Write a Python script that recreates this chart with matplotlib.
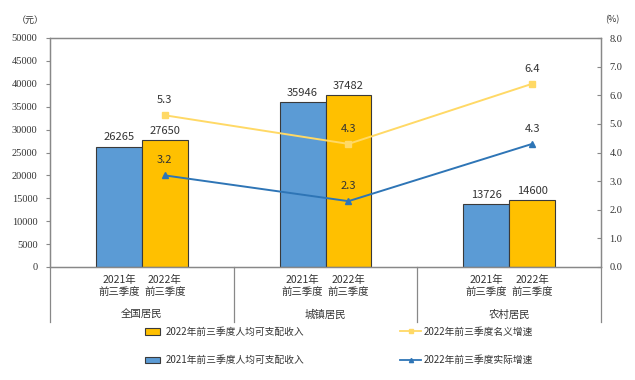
import matplotlib
matplotlib.use("Agg")
import matplotlib.pyplot as plt
from matplotlib.patches import Patch
from matplotlib.lines import Line2D
import numpy as np

plt.rcParams['font.family'] = ['Noto Sans CJK SC', 'DejaVu Sans']

groups = ['全国居民', '城镇居民', '农村居民']
sub_labels = ['2021年\n前三季度', '2022年\n前三季度']
income_2021 = [26265, 35946, 13726]
income_2022 = [27650, 37482, 14600]
nominal_growth = [5.3, 4.3, 6.4]
real_growth = [3.2, 2.3, 4.3]
left_ticks = [0, 5000, 10000, 15000, 20000, 25000, 30000, 35000, 40000, 45000, 50000]
right_ticks = [0.0, 1.0, 2.0, 3.0, 4.0, 5.0, 6.0, 7.0, 8.0]
legend_bar_labels = ['2022年前三季度人均可支配收入', '2021年前三季度人均可支配收入']
legend_line_labels = ['2022年前三季度名义增速', '2022年前三季度实际增速']

BLUE = '#5B9BD5'
GOLD = '#FFC000'
LINE_Y = '#FFD966'
LINE_B = '#2E75B6'
EDGE = '#3a3a3a'
AXC = '#888888'
TXT = '#333333'
NUMFONT = ['Liberation Serif', 'DejaVu Serif']

fig = plt.figure(figsize=(6.35, 3.8), dpi=100)
ax = fig.add_axes([50/635, 1-267/380, 551/635, 229/380])
ax2 = ax.twinx()

x = np.arange(len(groups)) + 0.5
w = 0.25
ax.bar(x - w/2, income_2021, w, color=BLUE, edgecolor=EDGE, linewidth=0.8, zorder=2)
ax.bar(x + w/2, income_2022, w, color=GOLD, edgecolor=EDGE, linewidth=0.8, zorder=2)
for xi, v in zip(x - w/2, income_2021):
    ax.text(xi, v + 1000, str(v), ha='center', va='bottom', fontsize=8, color=TXT)
for xi, v in zip(x + w/2, income_2022):
    ax.text(xi, v + 1000, str(v), ha='center', va='bottom', fontsize=8, color=TXT)

ax.set_xlim(0, 3)
ax.set_ylim(0, 50000)
ax.set_yticks(left_ticks)
ax.set_yticklabels([str(t) for t in left_ticks], fontsize=7.5, color=TXT, family=NUMFONT)
ax.set_xticks([])
ax.tick_params(axis='y', direction='out', length=3, color=AXC, pad=6)

ax2.plot(x + w/2, nominal_growth, color=LINE_Y, marker='s', markersize=4, linewidth=1.4, zorder=3)
ax2.plot(x + w/2, real_growth, color=LINE_B, marker='^', markersize=4, linewidth=1.4, zorder=3)
ax2.set_ylim(0, 8)
ax2.set_yticks(right_ticks)
ax2.set_yticklabels([f'{t:.1f}' for t in right_ticks], fontsize=7.5, color=TXT, family=NUMFONT)
ax2.tick_params(axis='y', direction='in', length=3, color=AXC, pad=6)
for xi, v in zip(x + w/2, nominal_growth):
    ax2.text(xi, v + 0.35, f'{v:.1f}', ha='center', va='bottom', fontsize=8, color=TXT)
for xi, v in zip(x + w/2, real_growth):
    ax2.text(xi, v + 0.35, f'{v:.1f}', ha='center', va='bottom', fontsize=8, color=TXT)

for a in (ax, ax2):
    for s in a.spines.values():
        s.set_color(AXC)
        s.set_linewidth(0.9)

tr = ax.get_xaxis_transform()
for xi in x:
    ax.text(xi - w/2, -0.035, sub_labels[0], transform=tr, ha='center', va='top', fontsize=7.5, color=TXT, linespacing=1.25)
    ax.text(xi + w/2, -0.035, sub_labels[1], transform=tr, ha='center', va='top', fontsize=7.5, color=TXT, linespacing=1.25)
for xi, g in zip(x, groups):
    ax.text(xi, -0.185, g, transform=tr, ha='center', va='top', fontsize=7.5, color=TXT)
for b in range(len(groups) + 1):
    ax.plot([b, b], [0, -0.24], transform=tr, color=AXC, linewidth=0.9, clip_on=False)

h_bars = [Patch(facecolor=GOLD, edgecolor=EDGE, linewidth=0.8),
          Patch(facecolor=BLUE, edgecolor=EDGE, linewidth=0.8)]
h_lines = [Line2D([], [], color=LINE_Y, marker='s', markersize=3, linewidth=1.3),
           Line2D([], [], color=LINE_B, marker='^', markersize=3, linewidth=1.3)]
leg1 = fig.legend(h_bars, legend_bar_labels, loc='upper left', bbox_to_anchor=(140/635, 1-322/380),
                  frameon=False, fontsize=7, handlelength=1.6, handleheight=0.6, labelspacing=1.9,
                  handletextpad=0.5, borderpad=0)
leg2 = fig.legend(h_lines, legend_line_labels, loc='upper left', bbox_to_anchor=(395/635, 1-322/380),
                  frameon=False, fontsize=7, handlelength=2.2, labelspacing=1.9,
                  handletextpad=0.2, borderpad=0)
for lg in (leg1, leg2):
    for t in lg.get_texts():
        t.set_color(TXT)

fig.text(30/635, 1-20/380, '（元）', ha='center', va='center', fontsize=6.5, color=TXT)
fig.text(612/635, 1-20/380, '(%)', ha='center', va='center', fontsize=6.5, color=TXT)

fig.savefig('out.png', dpi=100)
